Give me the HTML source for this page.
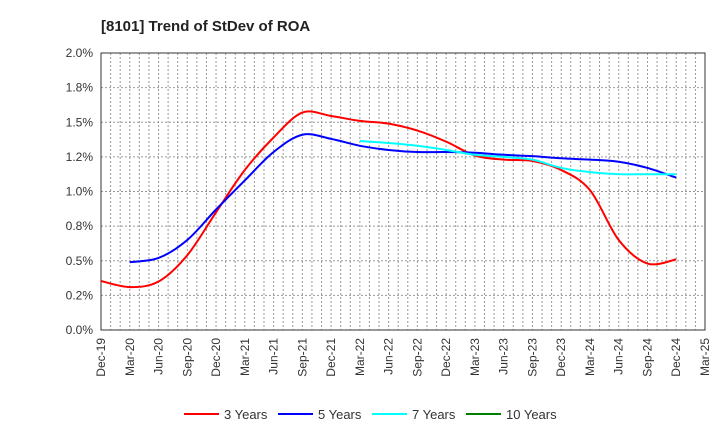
<!DOCTYPE html>
<html><head><meta charset="utf-8"><style>
body{margin:0;background:#fff;font-family:"Liberation Sans",sans-serif;}
</style></head><body>
<svg id="chart" width="720" height="440" xmlns="http://www.w3.org/2000/svg" font-family="Liberation Sans, sans-serif">
<text x="101" y="31" font-size="15" font-weight="bold" fill="#222">[8101]  Trend of StDev of ROA</text>
<g id="grid"></g><g id="axes"></g><g id="series"></g>
<g id="legend"></g>
</svg>
<script>
const xLabels=["Dec-19","Mar-20","Jun-20","Sep-20","Dec-20","Mar-21","Jun-21","Sep-21","Dec-21","Mar-22","Jun-22","Sep-22","Dec-22","Mar-23","Jun-23","Sep-23","Dec-23","Mar-24","Jun-24","Sep-24","Dec-24","Mar-25"];
const yTicks=[0,0.25,0.5,0.75,1.0,1.25,1.5,1.75,2.0];
const yTickLabels=["0.0%","0.2%","0.5%","0.8%","1.0%","1.2%","1.5%","1.8%","2.0%"];
const s3=[0.354,0.31,0.35,0.54,0.85,1.155,1.39,1.57,1.545,1.51,1.49,1.44,1.36,1.26,1.23,1.22,1.155,1.01,0.65,0.48,0.51];
const s5=[null,0.49,0.52,0.65,0.87,1.08,1.285,1.41,1.38,1.33,1.30,1.285,1.285,1.28,1.265,1.255,1.24,1.23,1.215,1.17,1.10];
const s7=[null,null,null,null,null,null,null,null,null,1.365,1.35,1.33,1.30,1.265,1.25,1.23,1.17,1.14,1.125,1.125,1.125];
const s10=[];
const seriesNames=["3 Years","5 Years","7 Years","10 Years"];
const seriesColors=["#ff0000","#0000ff","#00ffff","#008000"];
const L=101,R=705,T=53,B=330;
const NS="http://www.w3.org/2000/svg";
function xs(i){return L+(R-L)*i/(xLabels.length-1);}
function ys(v){return B-(B-T)*v/2.0;}
function mk(tag,attrs,parent){const e=document.createElementNS(NS,tag);for(const k in attrs)e.setAttribute(k,attrs[k]);parent.appendChild(e);return e;}
const grid=document.getElementById('grid'),axes=document.getElementById('axes'),ser=document.getElementById('series'),leg=document.getElementById('legend');
const months=(xLabels.length-1)*3;
for(let m=1;m<months;m++){const x=L+(R-L)*m/months;const g=mk('line',{x1:x,x2:x,y1:T,y2:B,stroke:'#999','stroke-dasharray':'2,2','stroke-width':1},grid);

}
yTicks.forEach((v,i)=>{const y=ys(v);
if(i>0&&i<yTicks.length-1){const g=mk('line',{x1:L,x2:R,y1:y,y2:y,stroke:'#999','stroke-dasharray':'2,2'},grid);

}
const t=mk('text',{x:L-8,y:y+4,'text-anchor':'end','font-size':12,fill:'#333'},axes);t.textContent=yTickLabels[i];

});
const frame=mk('rect',{x:L,y:T,width:R-L,height:B-T,fill:'none',stroke:'#333','stroke-width':1},axes);


xLabels.forEach((lab,i)=>{const x=xs(i);
const t=mk('text',{x:x+4,y:B+8,'text-anchor':'end','font-size':12,fill:'#333',transform:`rotate(-90 ${x+4} ${B+8})`},axes);t.textContent=lab;

});
function path(data){const pts=[];data.forEach((v,i)=>{if(v!=null)pts.push([xs(i),ys(v)]);});if(pts.length<2)return '';
let d=`M${pts[0][0]},${pts[0][1]}`;
for(let i=0;i<pts.length-1;i++){const p0=pts[Math.max(0,i-1)],p1=pts[i],p2=pts[i+1],p3=pts[Math.min(pts.length-1,i+2)];
const c1=[p1[0]+(p2[0]-p0[0])/6,p1[1]+(p2[1]-p0[1])/6],c2=[p2[0]-(p3[0]-p1[0])/6,p2[1]-(p3[1]-p1[1])/6];
d+=` C${c1[0]},${c1[1]} ${c2[0]},${c2[1]} ${p2[0]},${p2[1]}`;}return d;}
[s3,s5,s7,s10].forEach((s,k)=>{const d=path(s);if(!d)return;
const p=mk('path',{d:d,fill:'none',stroke:seriesColors[k],'stroke-width':2},ser);

});
const legX=[184,278,372,466];
seriesNames.forEach((n,k)=>{
const g=mk('g',{},leg);


mk('line',{x1:legX[k],x2:legX[k]+35,y1:414,y2:414,stroke:seriesColors[k],'stroke-width':2},g);
const t=mk('text',{x:legX[k]+40,y:419,'font-size':13,fill:'#333'},g);t.textContent=n;});
</script>
</body></html>
